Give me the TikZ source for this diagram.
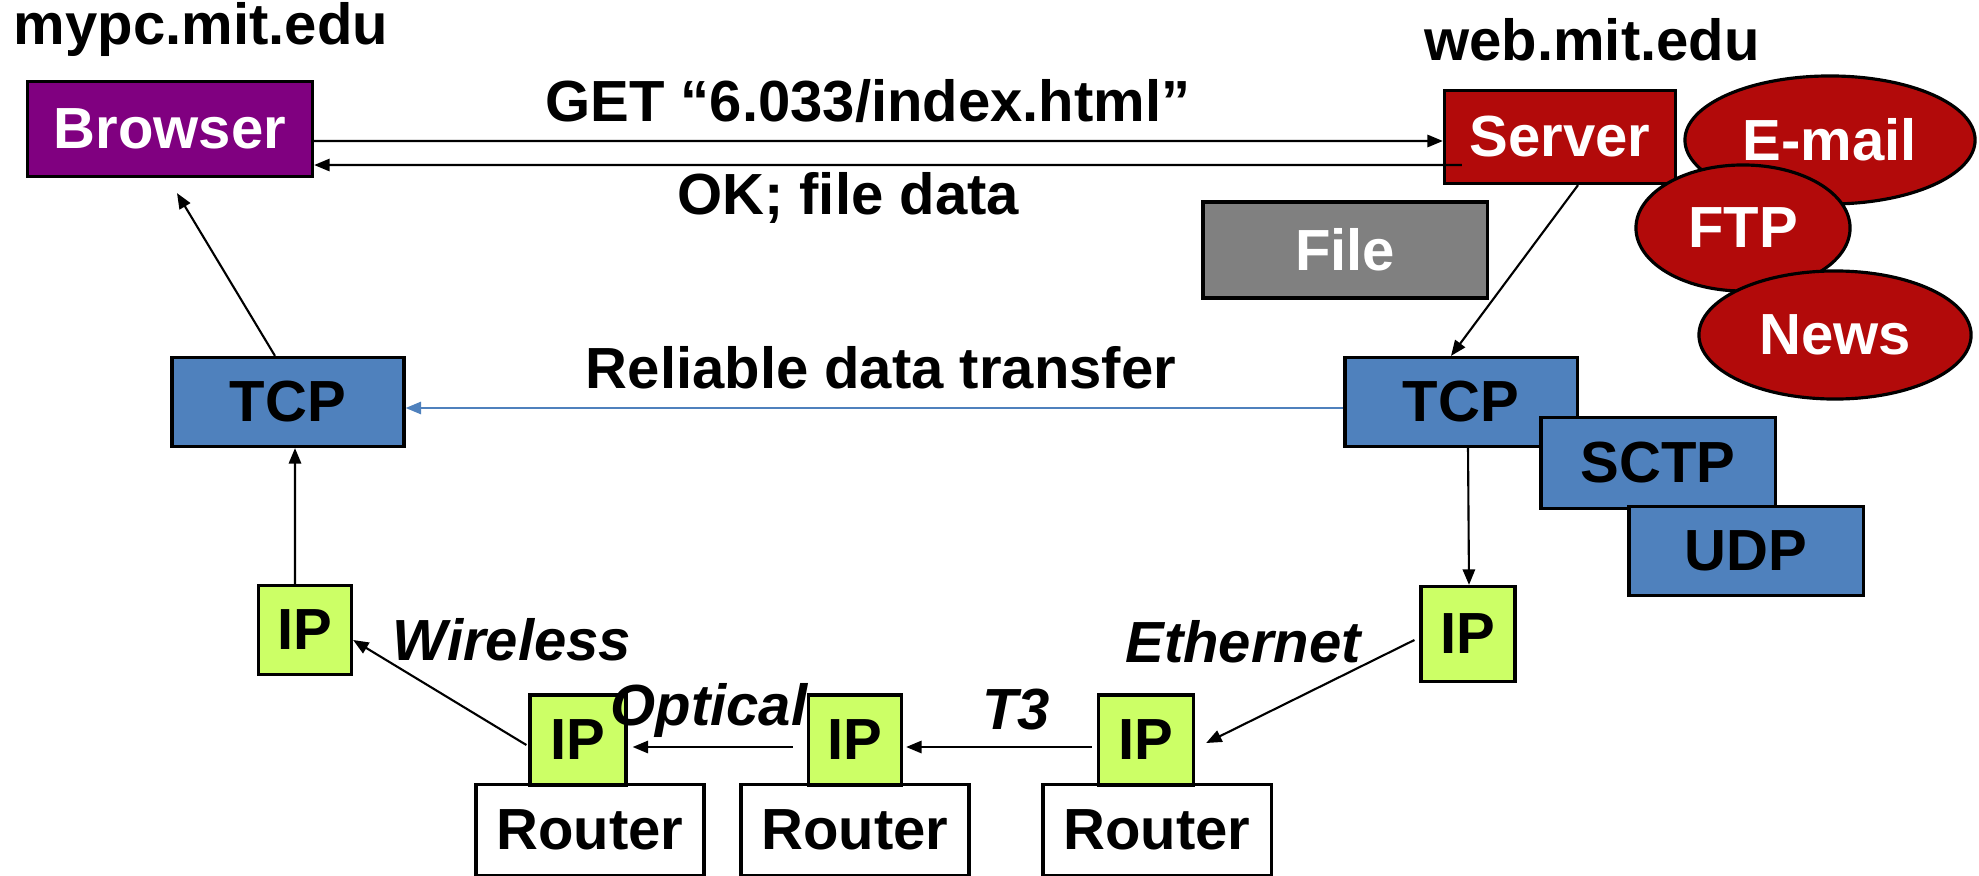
\documentclass[tikz,border=0pt]{standalone}
\usepackage{fontspec}
\setmainfont{Liberation Sans}
\usetikzlibrary{shapes.geometric,arrows.meta}
\definecolor{browserpurple}{HTML}{800080}
\definecolor{serverred}{HTML}{B20A0A}
\definecolor{filegray}{HTML}{808080}
\definecolor{layerblue}{HTML}{4F81BD}
\definecolor{ipgreen}{HTML}{CCFF66}

\begin{document}
\begin{tikzpicture}[x=0.01cm,y=-0.01cm,
  every node/.style={font=\fontsize{16.5}{19}\selectfont\bfseries},
  box/.style={draw=black,line width=0.9pt,inner sep=0pt},
  app/.style={shape=ellipse,draw=black,line width=0.9pt,fill=serverred,text=white,inner sep=0pt},
  link/.style={font=\fontsize{16.5}{19}\selectfont\bfseries\itshape},
  arr/.style={-{Triangle[length=4.4pt,width=3.5pt]},line width=0.6pt}]
\useasboundingbox (0,0) rectangle (1979,876);

\node (mypc) at (201,30) {mypc.mit.edu};
\node (web) at (1592,40) {web.mit.edu};

\node[box,fill=browserpurple,text=white,minimum width=2.85cm,minimum height=0.95cm] (Browser) at (170,129) {Browser};
\node[box,fill=serverred,text=white,minimum width=2.31cm,minimum height=0.93cm] (Server) at (1560,137) {Server};
\node[box,fill=filegray,text=white,minimum width=2.84cm,minimum height=0.96cm] (File) at (1345,250) {File};

\node[app,minimum width=2.9cm,minimum height=1.28cm] (Email) at (1830,140) {E-mail};
\node[app,minimum width=2.14cm,minimum height=1.26cm] (FTP) at (1743,228) {FTP};
\node[app,minimum width=2.72cm,minimum height=1.28cm] (News) at (1835,335) {News};

\node[box,fill=layerblue,minimum width=2.32cm,minimum height=0.89cm] (TCPl) at (288,402) {TCP};
\node[box,fill=layerblue,minimum width=2.32cm,minimum height=0.89cm] (TCPr) at (1461,402) {TCP};
\node[box,fill=layerblue,minimum width=2.34cm,minimum height=0.91cm] (SCTP) at (1658,463) {SCTP};
\node[box,fill=layerblue,minimum width=2.34cm,minimum height=0.89cm] (UDP) at (1746,551) {UDP};

\node[box,fill=ipgreen,minimum width=0.93cm,minimum height=0.89cm] (IPl) at (305,630) {IP};
\node[box,fill=ipgreen,minimum width=0.94cm,minimum height=0.95cm] (IPr) at (1468,634) {IP};

\node[box,fill=white,minimum width=2.28cm,minimum height=0.91cm] (R1) at (590,830) {Router};
\node[box,fill=white,minimum width=2.28cm,minimum height=0.91cm] (R2) at (855,830) {Router};
\node[box,fill=white,minimum width=2.28cm,minimum height=0.91cm] (R3) at (1157,830) {Router};
\node[box,fill=ipgreen,minimum width=0.96cm,minimum height=0.9cm] (IP1) at (578,740) {IP};
\node[box,fill=ipgreen,minimum width=0.93cm,minimum height=0.9cm] (IP2) at (855,740) {IP};
\node[box,fill=ipgreen,minimum width=0.95cm,minimum height=0.9cm] (IP3) at (1146,740) {IP};

\node (get) at (868,101) {GET “6.033/index.html”};
\node (ok) at (848,198) {OK; file data};
\node (reliable) at (881,368) {Reliable data transfer};
\node[link] (wireless) at (512,640) {Wireless};
\node[link] (ethernet) at (1243,642) {Ethernet};
\node[link] (optical) at (709,710) {Optical};
\node[link] (tthree) at (1016,710) {T3};

\path [arr] ([yshift=-0.12cm]Browser.east) edge ([yshift=-0.04cm]Server.west);
\path [arr] ([xshift=0.19cm,yshift=-0.28cm]Server.west) edge ([yshift=-0.36cm]Browser.east);
\path [arr] ([xshift=0.18cm]Server.south) edge ([xshift=-0.1cm]TCPr.north);
\path [arr] ([xshift=-0.13cm]TCPl.north) edge ([xshift=0.07cm,yshift=-0.15cm]Browser.south);
\path [arr,layerblue] ([yshift=-0.06cm]TCPr.west) edge ([yshift=-0.06cm]TCPl.east);
\path [arr] ([xshift=-0.1cm]IPl.north) edge ([xshift=0.07cm]TCPl.south);
\path [arr] ([xshift=0.07cm]TCPr.south) edge ([xshift=0.01cm]IPr.north);
\path [arr] ([xshift=-0.05cm,yshift=-0.06cm]IPr.west) edge ([xshift=0.11cm,yshift=-0.03cm]IP3.east);
\path [arr] ([xshift=-0.05cm,yshift=-0.07cm]IP3.west) edge ([xshift=0.03cm,yshift=-0.07cm]IP2.east);
\path [arr] ([xshift=-0.14cm,yshift=-0.07cm]IP2.west) edge ([xshift=0.05cm,yshift=-0.07cm]IP1.east);
\path [arr] ([xshift=-0.02cm,yshift=-0.05cm]IP1.west) edge ([yshift=-0.1cm]IPl.east);
\end{tikzpicture}
\end{document}
